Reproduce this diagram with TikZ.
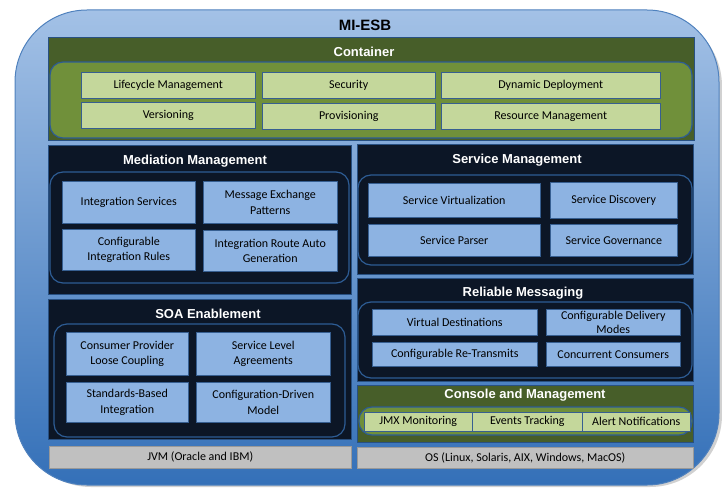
\documentclass[tikz,border=0pt]{standalone}
\usepackage{fontspec}
\setmainfont{Carlito}
\newfontfamily\headfont{Liberation Sans}
\definecolor{esbtop}{RGB}{163,193,230}
\definecolor{esbbottom}{RGB}{52,112,184}
\definecolor{esbline}{RGB}{79,129,189}
\definecolor{navy}{RGB}{12,22,38}
\definecolor{navyline}{RGB}{40,80,130}
\definecolor{laneblue}{RGB}{45,92,148}
\definecolor{itemblue}{RGB}{141,179,226}
\definecolor{itemline}{RGB}{55,95,145}
\definecolor{darkgreen}{RGB}{71,94,41}
\definecolor{lanegreen}{RGB}{112,144,58}
\definecolor{itemgreen}{RGB}{196,215,155}
\definecolor{jvmgray}{RGB}{192,192,192}
\usetikzlibrary{positioning}

\tikzset{
  panel/.style={draw=navyline, fill=navy, line width=0.8pt},
  greenpanel/.style={draw=navyline, fill=darkgreen, line width=0.8pt},
  lane/.style={draw=laneblue, line width=1.2pt, rounded corners=13pt},
  greenlane/.style={lane, fill=lanegreen},
  item/.style={draw=itemline, line width=0.5pt, align=center, inner sep=1pt,
    anchor=north west, font=\fontsize{12}{15.5}\selectfont},
  blueitem/.style={item, fill=itemblue},
  greenitem/.style={item, fill=itemgreen},
  grayitem/.style={item, fill=jvmgray, draw=black!40},
  title/.style={text=white, font=\headfont\bfseries\fontsize{13}{15}\selectfont}
}

\begin{document}
\begin{tikzpicture}[x=1pt, y=-1pt]
  \useasboundingbox (0,0) rectangle (722,487);
  % bus body with its shadow
  \fill[black!30, opacity=0.6, rounded corners=72pt] (19,14) rectangle (722,487);
  \draw[esbline, line width=1pt, top color=esbtop, bottom color=esbbottom,
        rounded corners=72pt] (15,10) rectangle (719,485);
  \node[title, font=\headfont\bfseries\fontsize{15}{17}\selectfont, text=black]
    (esb) at (365,25) {MI-ESB};

  % panels
  \draw[greenpanel] (48,37) rectangle (694,140);
  \draw[greenlane] (50,62) rectangle (692,138);
  \draw[panel] (48,145) rectangle (351,294);
  \draw[lane] (50,172) rectangle (349,283);
  \draw[panel] (48,299) rectangle (351,439);
  \draw[lane] (54,324) rectangle (345,437);
  \draw[panel] (357,144) rectangle (693,274);
  \draw[lane] (358,175) rectangle (692,265);
  \draw[panel] (357,278) rectangle (693,381);
  \draw[lane] (358,302) rectangle (692,378);
  \draw[greenpanel] (357,385) rectangle (693,442);
  \draw[greenlane] (359,407) rectangle (692,435);

  \node[title] (container) at (364,52) {Container};
  \node[title] (mediation) at (195,161) {Mediation Management};
  \node[title] (soa) at (208,314) {SOA Enablement};
  \node[title] (service) at (517,160) {Service Management};
  \node[title] (reliable) at (523,293) {Reliable Messaging};
  \node[title] (console) at (525,395) {Console and Management};

  % green items
  \foreach \n/\x/\y/\w/\h/\t in {life/81/72/174/26/Lifecycle Management,
      sec/262/72/173/26/Security, dyn/441/72/219/26/Dynamic Deployment,
      ver/81/102/174/26/Versioning, prov/262/103/173/26/Provisioning,
      res/441/103/219/26/Resource Management,
      jmx/364/412/108/19/JMX Monitoring, evt/472/412/110/19/Events Tracking,
      alert/582/412/108/19/Alert Notifications}{
    \node[greenitem, minimum width=\w pt, minimum height=\h pt] (\n) at (\x,\y) {\t};
  }

  % blue items
  \foreach \n/\x/\y/\w/\h/\t in {intsvc/62/181/133/42/Integration Services,
      mep/203/181/134/42/{Message Exchange\\Patterns},
      rules/62/229/133/41/{Configurable\\Integration Rules},
      route/203/230/134/41/{Integration Route Auto\\Generation},
      loose/66/332/122/43/{Consumer Provider\\Loose Coupling},
      sla/196/332/134/43/{Service Level\\Agreements},
      std/66/382/122/40/{Standards-Based\\Integration},
      cfg/196/382/134/40/{Configuration-Driven\\Model},
      virt/368/183/172/34/Service Virtualization,
      disc/550/182/127/36/Service Discovery,
      parser/368/224/172/32/Service Parser,
      gov/550/224/127/32/Service Governance,
      vdest/372/309/165/26/Virtual Destinations,
      retx/372/342/165/24/Configurable Re-Transmits,
      cons/546/342/134/24/Concurrent Consumers}{
    \node[blueitem, minimum width=\w pt, minimum height=\h pt] (\n) at (\x,\y) {\t};
  }
  \node[blueitem, minimum width=134pt, minimum height=26pt, inner sep=0pt,
        font=\fontsize{12}{14.5}\selectfont] (deliv) at (546,309)
    {Configurable Delivery\\Modes};

  % platform bars
  \node[grayitem, minimum width=302pt, minimum height=22pt] (jvm) at (49,446)
    {JVM (Oracle and IBM)};
  \node[grayitem, minimum width=336pt, minimum height=21pt] (os) at (357,447)
    {OS (Linux, Solaris, AIX, Windows, MacOS)};
\end{tikzpicture}
\end{document}
